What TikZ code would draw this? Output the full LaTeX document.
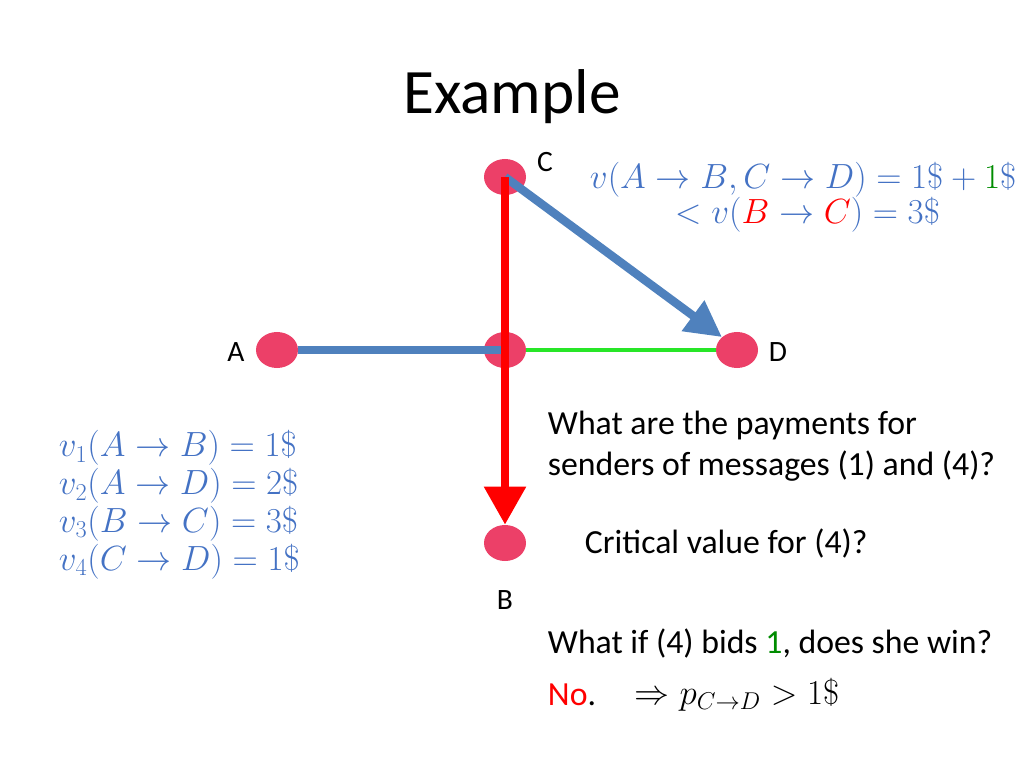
\documentclass[tikz,border=0pt]{standalone}
\usepackage{amsmath}
\usepackage{fontspec}
\setmainfont{Carlito}
\usetikzlibrary{arrows.meta,shapes.geometric}
\definecolor{dotred}{RGB}{236,64,104}
\definecolor{edgeblue}{RGB}{79,129,189}
\definecolor{mathblue}{RGB}{68,114,196}
\definecolor{edgegreen}{RGB}{40,230,40}
\definecolor{darkgreen}{RGB}{0,140,0}
\tikzset{
  vertex/.style={ellipse, fill=dotred, minimum width=1.05cm, minimum height=0.9cm, inner sep=0pt},
  lbl/.style={font=\fontsize{21}{24}\selectfont},
  txt/.style={font=\fontsize{24}{29}\selectfont, align=left, anchor=west},
  mathtxt/.style={mathblue, font=\fontsize{23.5}{29}\selectfont, anchor=west},
  bluearrow/.style={edgeblue, line width=6pt, -{Triangle[length=0.9cm,width=0.9cm]}},
  redarrow/.style={red, line width=6pt, -{Triangle[length=0.95cm,width=1cm]}}
}
\begin{document}
\begin{tikzpicture}[x=0.025cm,y=-0.025cm]
  \useasboundingbox (0,0) rectangle (1024,768);
  \node[font=\fontsize{45}{50}\selectfont] (title) at (512,97) {Example};

  % vertices
  \node[vertex] (C) at (505,177) {};
  \node[vertex] (A) at (277,350) {};
  \node[vertex] (M) at (505,350) {};
  \node[vertex] (D) at (737,350) {};
  \node[vertex] (B) at (505,543) {};

  \node[lbl] (Cl) at (545,162) {C};
  \node[lbl] (Al) at (236,352) {A};
  \node[lbl] (Dl) at (778,352) {D};
  \node[lbl] (Bl) at (505,600) {B};

  % edges
  \draw[edgegreen, line width=2.5pt] (M) -- (D);
  \draw[edgeblue, line width=5pt] (A.east) -- (M.center);
  \draw[bluearrow] (C.center) -- (D.north west);
  \draw[redarrow] (C.center) -- (B.north);

  % formulas
  \node[mathtxt] (f1) at (585,180)
    {$v(A\rightarrow B, C\rightarrow D)=1\$+{\color{darkgreen}1}\$$};
  \node[mathtxt] (f2) at (670,215)
    {$<v({\color{red}B}\rightarrow{\color{red}C})=3\$$};

  \node[mathtxt, align=left] (vals) at (54,505)
    {$v_1(A\rightarrow B)=1\$$\\[-2pt] $v_2(A\rightarrow D)=2\$$\\[-2pt]
     $v_3(B\rightarrow C)=3\$$\\[-2pt] $v_4(C\rightarrow D)=1\$$};

  % questions
  \node[txt] (q1) at (543,446) {What are the payments for\\senders of messages (1) and (4)?};
  \node[txt] (q2) at (580,543) {Critical value for (4)?};
  \node[txt] (q3) at (543,643) {What if (4) bids {\color{darkgreen}1}, does she win?};
  \node[txt] (q4) at (543,695) {{\color{red}No}.};
  \node[txt] (q5) at (630,695) {$\Rightarrow p_{C\rightarrow D}>1\$$};
\end{tikzpicture}
\end{document}
